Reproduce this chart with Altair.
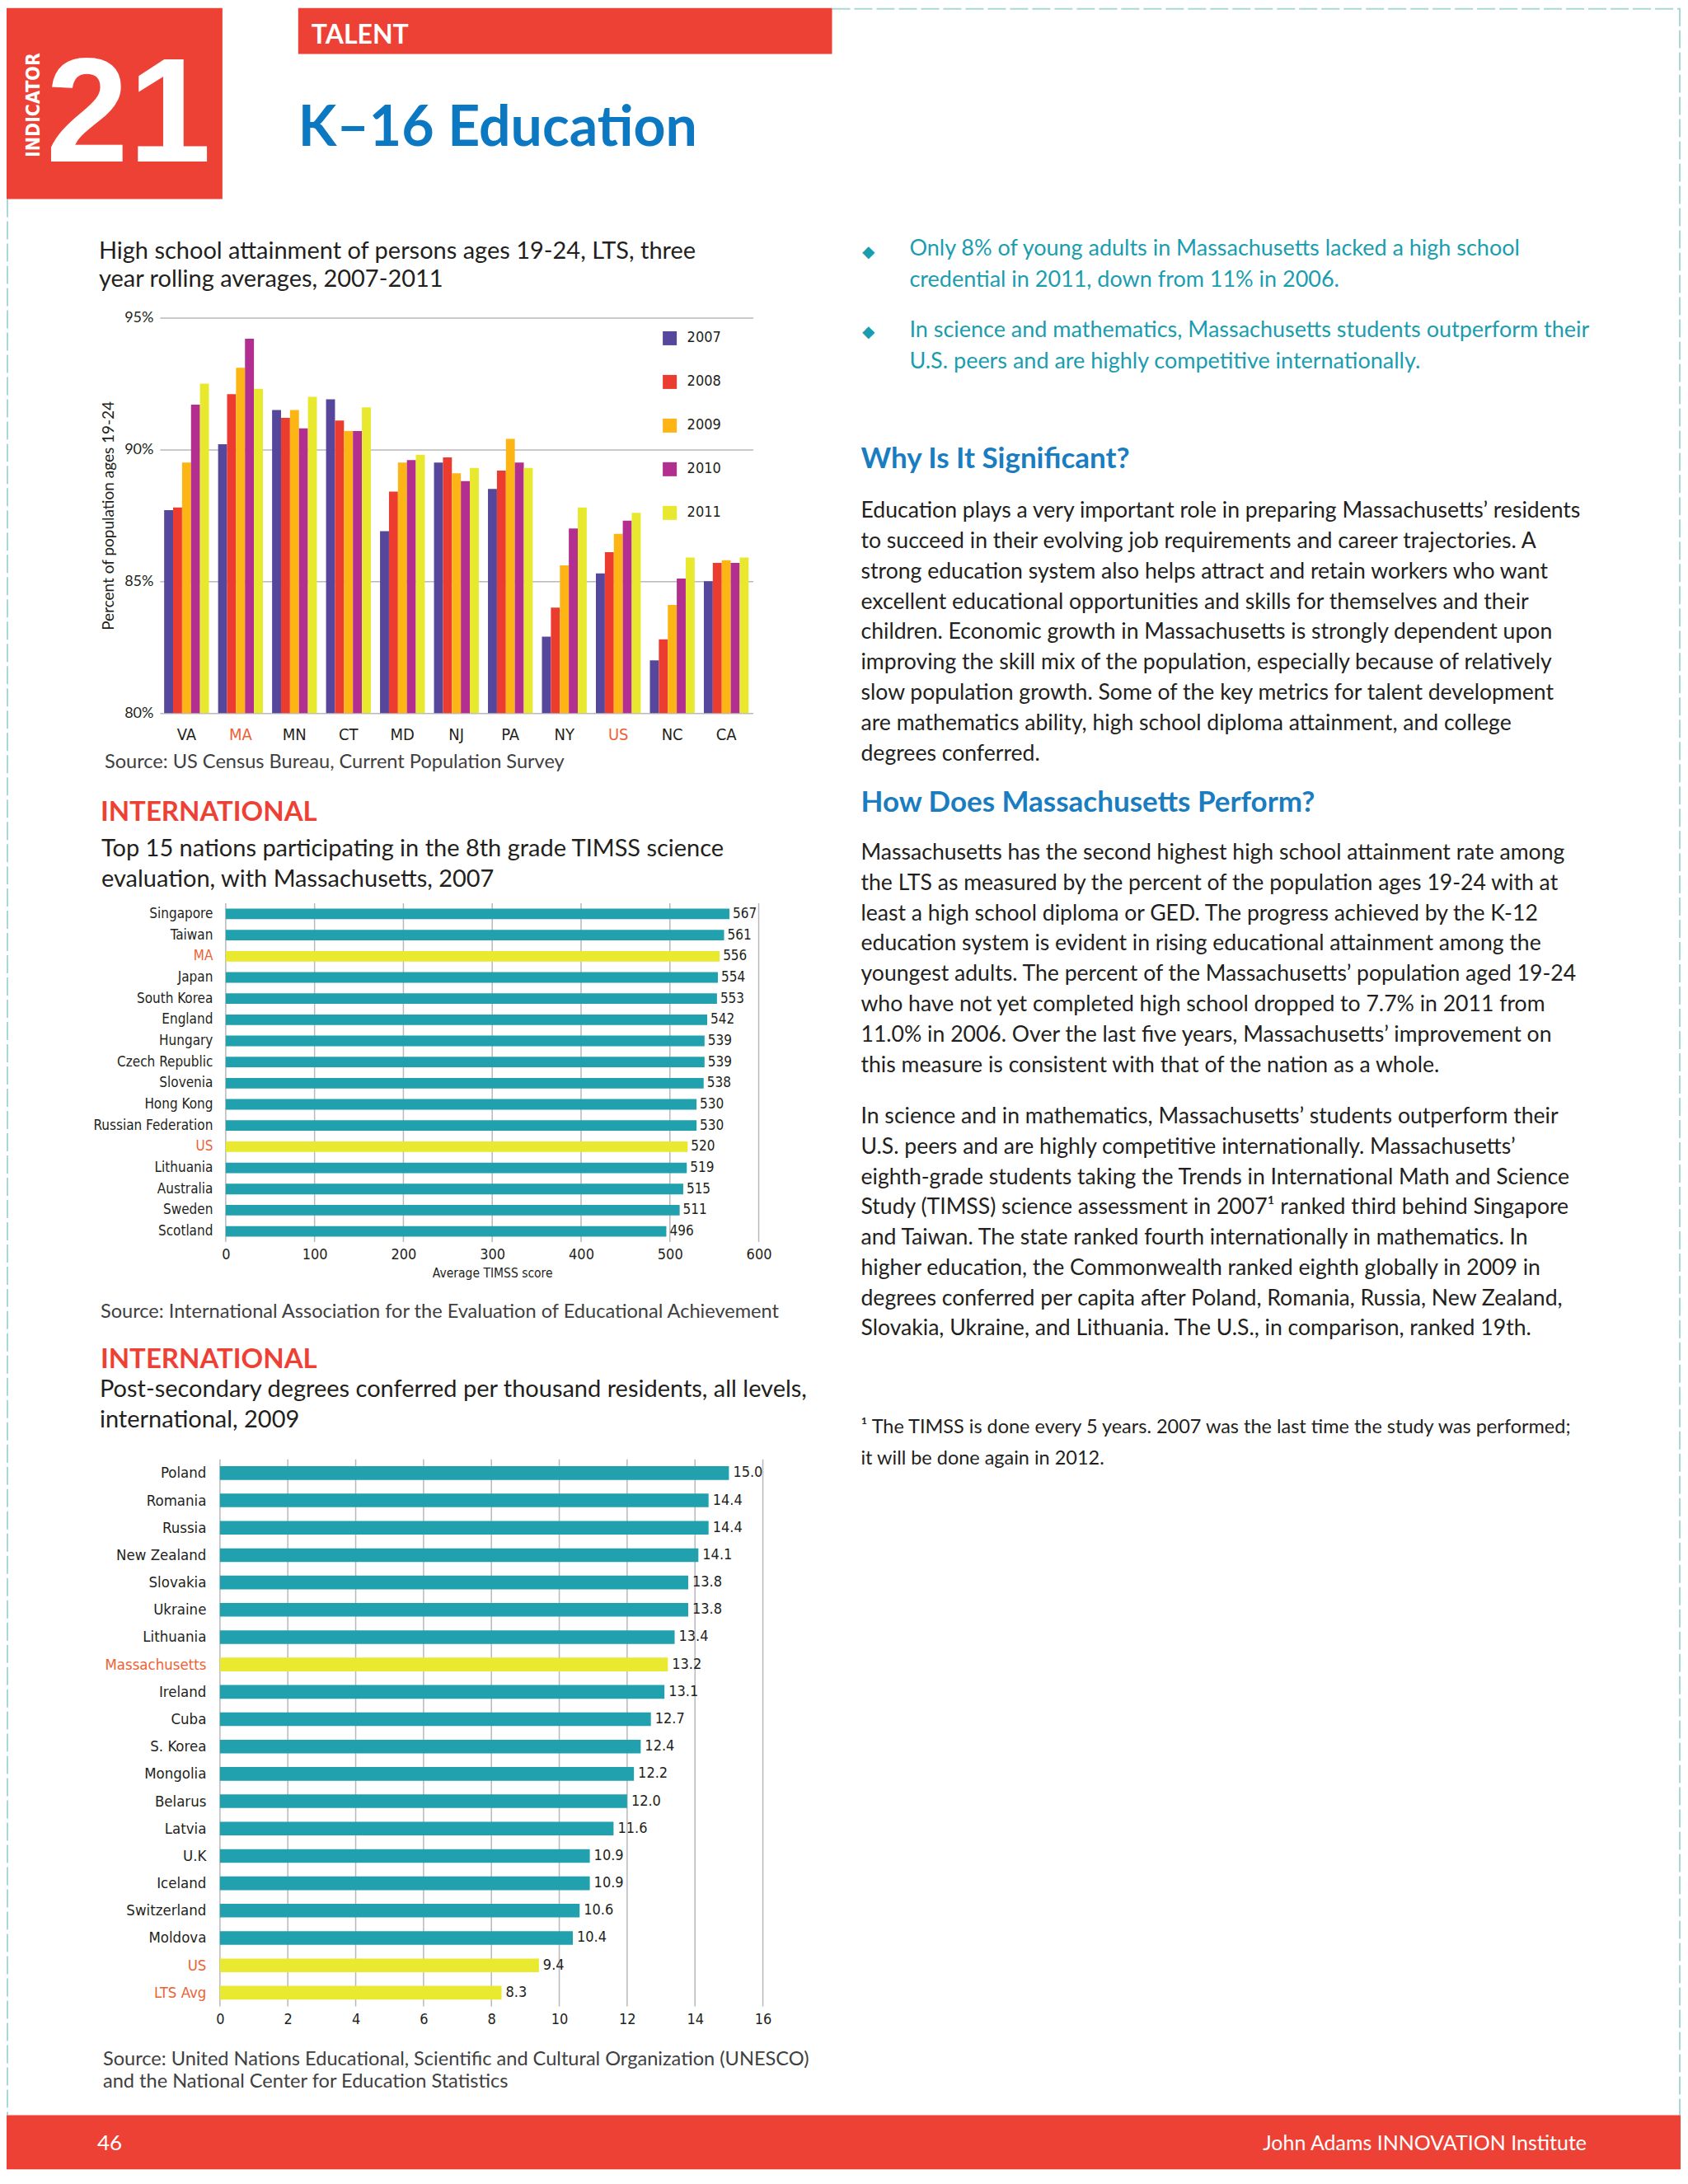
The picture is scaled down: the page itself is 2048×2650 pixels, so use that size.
import altair as alt
import pandas as pd

# ------------------------------------------------------------------ data
states = ["VA", "MA", "MN", "CT", "MD", "NJ", "PA", "NY", "US", "NC", "CA"]
years = ["2007", "2008", "2009", "2010", "2011"]
hs_2007 = [87.7, 90.2, 91.5, 91.9, 86.9, 89.5, 88.5, 82.9, 85.3, 82.0, 85.0]
hs_2008 = [87.8, 92.1, 91.2, 91.1, 88.4, 89.7, 89.2, 84.0, 86.1, 82.8, 85.7]
hs_2009 = [89.5, 93.1, 91.5, 90.7, 89.5, 89.1, 90.4, 85.6, 86.8, 84.1, 85.8]
hs_2010 = [91.7, 94.2, 90.8, 90.7, 89.6, 88.8, 89.5, 87.0, 87.3, 85.1, 85.7]
hs_2011 = [92.5, 92.3, 92.0, 91.6, 89.8, 89.3, 89.3, 87.8, 87.6, 85.9, 85.9]
hs_ticks = [80, 85, 90, 95]

timss_countries = ["Singapore", "Taiwan", "MA", "Japan", "South Korea", "England", "Hungary",
                   "Czech Republic", "Slovenia", "Hong Kong", "Russian Federation", "US",
                   "Lithuania", "Australia", "Sweden", "Scotland"]
timss_scores = [567, 561, 556, 554, 553, 542, 539, 539, 538, 530, 530, 520, 519, 515, 511, 496]
timss_highlight = ["MA", "US"]
timss_ticks = [0, 100, 200, 300, 400, 500, 600]

deg_countries = ["Poland", "Romania", "Russia", "New Zealand", "Slovakia", "Ukraine", "Lithuania",
                 "Massachusetts", "Ireland", "Cuba", "S. Korea", "Mongolia", "Belarus", "Latvia",
                 "U.K", "Iceland", "Switzerland", "Moldova", "US", "LTS Avg"]
deg_values = [15.0, 14.4, 14.4, 14.1, 13.8, 13.8, 13.4, 13.2, 13.1, 12.7, 12.4, 12.2, 12.0, 11.6,
              10.9, 10.9, 10.6, 10.4, 9.4, 8.3]
deg_highlight = ["Massachusetts", "US", "LTS Avg"]
deg_ticks = [0, 2, 4, 6, 8, 10, 12, 14, 16]

# ------------------------------------------------------------------ texts
hdr_label = "TALENT"
hdr_title = "K\u201316 Education"
hdr_indicator = "INDICATOR"
hdr_number = "21"

title1 = ["High school attainment of persons ages 19-24, LTS, three",
          "year rolling averages, 2007-2011"]
source1 = "Source: US Census Bureau, Current Population Survey"
ytitle1 = "Percent of population ages 19-24"
intl = "INTERNATIONAL"
title2 = ["Top 15 nations participating in the 8th grade TIMSS science",
          "evaluation, with Massachusetts, 2007"]
xtitle2 = "Average TIMSS score"
source2 = "Source: International Association for the Evaluation of Educational Achievement"
title3 = ["Post-secondary degrees conferred per thousand residents, all levels,",
          "international, 2009"]
source3 = ["Source: United Nations Educational, Scientific and Cultural Organization (UNESCO)",
           "and the National Center for Education Statistics"]

bullet1 = ["Only 8% of young adults in Massachusetts lacked a high school",
           "credential in 2011, down from 11% in 2006."]
bullet2 = ["In science and mathematics, Massachusetts students outperform their",
           "U.S. peers and are highly competitive internationally."]
head1 = "Why Is It Significant?"
para1 = ["Education plays a very important role in preparing Massachusetts\u2019 residents",
         "to succeed in their evolving job requirements and career trajectories. A",
         "strong education system also helps attract and retain workers who want",
         "excellent educational opportunities and skills for themselves and their",
         "children. Economic growth in Massachusetts is strongly dependent upon",
         "improving the skill mix of the population, especially because of relatively",
         "slow population growth. Some of the key metrics for talent development",
         "are mathematics ability, high school diploma attainment, and college",
         "degrees conferred."]
head2 = "How Does Massachusetts Perform?"
para2 = ["Massachusetts has the second highest high school attainment rate among",
         "the LTS as measured by the percent of the population ages 19-24 with at",
         "least a high school diploma or GED. The progress achieved by the K-12",
         "education system is evident in rising educational attainment among the",
         "youngest adults. The percent of the Massachusetts\u2019 population aged 19-24",
         "who have not yet completed high school dropped to 7.7% in 2011 from",
         "11.0% in 2006. Over the last five years, Massachusetts\u2019 improvement on",
         "this measure is consistent with that of the nation as a whole."]
para3 = ["In science and in mathematics, Massachusetts\u2019 students outperform their",
         "U.S. peers and are highly competitive internationally. Massachusetts\u2019",
         "eighth-grade students taking the Trends in International Math and Science",
         "Study (TIMSS) science assessment in 2007\u00b9 ranked third behind Singapore",
         "and Taiwan. The state ranked fourth internationally in mathematics. In",
         "higher education, the Commonwealth ranked eighth globally in 2009 in",
         "degrees conferred per capita after Poland, Romania, Russia, New Zealand,",
         "Slovakia, Ukraine, and Lithuania. The U.S., in comparison, ranked 19th."]
footnote = ["\u00b9 The TIMSS is done every 5 years. 2007 was the last time the study was performed;",
            "it will be done again in 2012."]
foot_page = "46"
foot_org = "John Adams INNOVATION Institute"

# ------------------------------------------------------------------ style
BODY = "Lato, 'Open Sans', sans-serif"
NARROW = "'Liberation Sans Narrow', 'DejaVu Sans Condensed', sans-serif"
RED = "#ee4136"
BLUE_TITLE = "#0b78c1"
BLUE_HEAD = "#1a7dc0"
TEAL_TXT = "#1b9db0"
INK = "#231f20"
ORANGE = "#ec6235"
TEAL_BAR = "#21a1ad"
YELLOW_BAR = "#e9e92f"
GRID = "#b8b8bd"
BORDER = "#a9d9d6"
YEAR_COLORS = ["#57479c", "#ec3b2f", "#fdb515", "#b22e8f", "#e8e82e"]

W = 2032
ROW1_H = 856
ROW2_H = 642
ROW3_H = 928
ONE = pd.DataFrame({"k": [0]})


def text(lines, x, y, size, color=INK, font=BODY, weight="normal", align="left",
         baseline="alphabetic", lh=None, angle=None):
    kw = dict(text=lines, font=font, fontSize=size, color=color, fontWeight=weight,
              align=align, baseline=baseline)
    if lh is not None:
        kw["lineHeight"] = lh
    if angle is not None:
        kw["angle"] = angle
    return alt.Chart(ONE).mark_text(**kw).encode(x=alt.value(x), y=alt.value(y))


def rect(x, x2, y, y2, color):
    return alt.Chart(ONE).mark_rect(color=color).encode(
        x=alt.value(x), x2=alt.value(x2), y=alt.value(y), y2=alt.value(y2))


def dashed(x, x2, y, y2):
    return alt.Chart(ONE).mark_rule(color=BORDER, strokeWidth=2, strokeDash=[22, 5]).encode(
        x=alt.value(x), x2=alt.value(x2), y=alt.value(y), y2=alt.value(y2))


def hl_expr(names):
    arr = ",".join("'%s'" % n for n in names)
    return alt.ExprRef(expr="indexof([%s], datum.value) >= 0 ? '%s' : '%s'" % (arr, ORANGE, INK))


# ------------------------------------------------------------------ row 1 (header, chart 1, right column)
rows = []
for yr, vals in zip(years, [hs_2007, hs_2008, hs_2009, hs_2010, hs_2011]):
    for st, v in zip(states, vals):
        rows.append({"state": st, "year": yr, "value": v})
df1 = pd.DataFrame(rows)

bars1 = alt.Chart(df1).mark_bar().encode(
    x=alt.X("state:N", sort=states,
            scale=alt.Scale(range=[186, 906], paddingInner=0.17, paddingOuter=0.08),
            axis=alt.Axis(title=None, labelAngle=0, labelFont=NARROW, labelFontSize=20,
                          labelColor=hl_expr(["MA", "US"]), labelPadding=16, ticks=False,
                          domain=False, grid=False)),
    xOffset=alt.XOffset("year:N", sort=years, scale=alt.Scale(paddingInner=0, paddingOuter=0)),
    y=alt.Y("value:Q", scale=alt.Scale(domain=[80, 95], range=[856, 376], nice=False, zero=False),
            axis=alt.Axis(title=ytitle1, values=hs_ticks, labelExpr="datum.value + '%'",
                          orient="left", offset=-186, grid=True, gridColor=GRID, gridWidth=1.5,
                          ticks=False, domain=False, labelFont=BODY, labelFontSize=18,
                          labelColor=INK, labelPadding=8, titleFont=BODY, titleFontSize=19,
                          titleFontWeight="normal", titleColor=INK, titleAngle=270,
                          titleBaseline="middle", titleAlign="center", titleX=-62, titleY=616)),
    y2=alt.datum(80),
    color=alt.Color("year:N", sort=years, scale=alt.Scale(domain=years, range=YEAR_COLORS),
                    legend=alt.Legend(orient="none", legendX=796, legendY=392, title=None,
                                      symbolType="square", symbolSize=289, symbolStrokeWidth=0,
                                      labelFont=NARROW, labelFontSize=18, labelColor=INK,
                                      rowPadding=35, labelOffset=12, padding=0,
                                      direction="vertical")),
)

row1 = alt.layer(
    dashed(1, 1, 232, 2558),
    dashed(1002, W, 1, 1),
    dashed(W - 1, W - 1, 0, 2558),
    rect(0, 262, 0, 232, RED),
    rect(354, 1002, 0, 56, RED),
    text(hdr_label, 370, 33, 32, color="white", weight="bold", baseline="middle"),
    text(hdr_title, 354, 167, 68, color=BLUE_TITLE, weight="bold"),
    text(hdr_number, 148, 186, 180, color="white", font="'Liberation Sans', Arial, sans-serif",
         weight="bold", align="center"),
    text(hdr_indicator, 33, 118, 23, color="white", font=NARROW, weight="bold",
         align="center", baseline="middle", angle=270),
    text(title1, 112, 305, 29, lh=34),
    bars1,
    text(source1, 119, 923, 23.6, color="#404041"),
    # right column
    text("\u25c6", 1046, 303, 20, color=TEAL_TXT, align="center"),
    text("\u25c6", 1046, 400, 20, color=TEAL_TXT, align="center"),
    text(bullet1, 1096, 301, 27, color=TEAL_TXT, lh=38),
    text(bullet2, 1096, 400, 27, color=TEAL_TXT, lh=38),
    text(head1, 1037, 559, 35, color=BLUE_HEAD, weight="bold"),
    text(para1, 1037, 619, 26.6, lh=36.8),
    text(head2, 1037, 976, 35, color=BLUE_HEAD, weight="bold"),
    text(para2, 1037, 1034, 26.6, lh=36.8),
    text(para3, 1037, 1354, 26.6, lh=36.8),
    text(footnote, 1037, 1730, 23.5, lh=38),
).properties(width=W, height=ROW1_H)

# ------------------------------------------------------------------ row 2 (chart 2)
df2 = pd.DataFrame({"country": timss_countries, "score": timss_scores,
                    "hl": [c in timss_highlight for c in timss_countries]})
grid2 = alt.Chart(pd.DataFrame({"score": timss_ticks})).mark_rule(
    color=GRID, strokeWidth=1.5).encode(x=alt.X("score:Q"), y=alt.value(231), y2=alt.value(642))
base2 = alt.Chart(df2).encode(
    y=alt.Y("country:N", sort=timss_countries,
            scale=alt.Scale(range=[231, 642], paddingInner=0.5, paddingOuter=0.25),
            axis=alt.Axis(title=None, orient="left", offset=-266, ticks=False, domain=False,
                          labelFont=NARROW, labelFontSize=17, labelColor=hl_expr(timss_highlight),
                          labelPadding=16, grid=False)),
    x=alt.X("score:Q", scale=alt.Scale(domain=[0, 600], range=[266, 913], nice=False, zero=True),
            axis=alt.Axis(values=timss_ticks, grid=False, format="d",
                          ticks=False, domain=False, labelFont=NARROW, labelFontSize=18,
                          labelColor=INK, labelPadding=7, labelFlush=False,
                          title=xtitle2, titleFont=NARROW, titleFontSize=15.5,
                          titleFontWeight="normal", titleColor=INK, titlePadding=6)),
)
bars2 = base2.mark_bar().encode(
    color=alt.condition("datum.hl", alt.value(YELLOW_BAR), alt.value(TEAL_BAR)))
labels2 = base2.mark_text(align="left", baseline="middle", dx=4, font=NARROW, fontSize=17,
                          color=INK).encode(text=alt.Text("score:Q", format="d"))

row2 = alt.layer(
    text(intl, 114, 131, 33, color=RED, weight="bold"),
    text(title2, 115, 174, 29, lh=37),
    grid2, bars2, labels2,
).properties(width=W, height=ROW2_H)

# ------------------------------------------------------------------ row 3 (chart 3 + footer)
df3 = pd.DataFrame({"country": deg_countries, "value": deg_values,
                    "hl": [c in deg_highlight for c in deg_countries]})
grid3 = alt.Chart(pd.DataFrame({"value": deg_ticks})).mark_rule(
    color=GRID, strokeWidth=1.5).encode(x=alt.X("value:Q"), y=alt.value(264), y2=alt.value(928))
base3 = alt.Chart(df3).encode(
    y=alt.Y("country:N", sort=deg_countries,
            scale=alt.Scale(range=[264, 928], paddingInner=0.5, paddingOuter=0.25),
            axis=alt.Axis(title=None, orient="left", offset=-259, ticks=False, domain=False,
                          labelFont=NARROW, labelFontSize=18.5, labelColor=hl_expr(deg_highlight),
                          labelPadding=17, grid=False)),
    x=alt.X("value:Q", scale=alt.Scale(domain=[0, 16], range=[259, 918], nice=False, zero=True),
            axis=alt.Axis(values=deg_ticks, grid=False, format="d",
                          ticks=False, domain=False, labelFont=NARROW, labelFontSize=18,
                          labelColor=INK, labelPadding=7, labelFlush=False, title=None)),
)
bars3 = base3.mark_bar().encode(
    color=alt.condition("datum.hl", alt.value(YELLOW_BAR), alt.value(TEAL_BAR)))
labels3 = base3.mark_text(align="left", baseline="middle", dx=5, font=NARROW, fontSize=18,
                          color=INK).encode(text=alt.Text("value:Q", format=".1f"))

row3 = alt.layer(
    text(source2, 114, 92, 23.6, color="#404041"),
    text(intl, 114, 153, 33, color=RED, weight="bold"),
    text(title3, 113, 188, 29, lh=37),
    grid3, bars3, labels3,
    text(source3, 117, 1000, 23.6, color="#404041", lh=27),
    rect(0, W, 1060, 1126, RED),
    text(foot_page, 110, 1103, 26, color="white"),
    text(foot_org, 1918, 1103, 25, color="white", align="right"),
).properties(width=W, height=ROW3_H)

chart = alt.vconcat(row1, row2, row3, spacing=0, bounds="flush").properties(
    padding=0, background="white"
).configure_view(strokeWidth=0, stroke="transparent")

chart.save("out.html", embed_options={"renderer": "svg", "actions": False})
